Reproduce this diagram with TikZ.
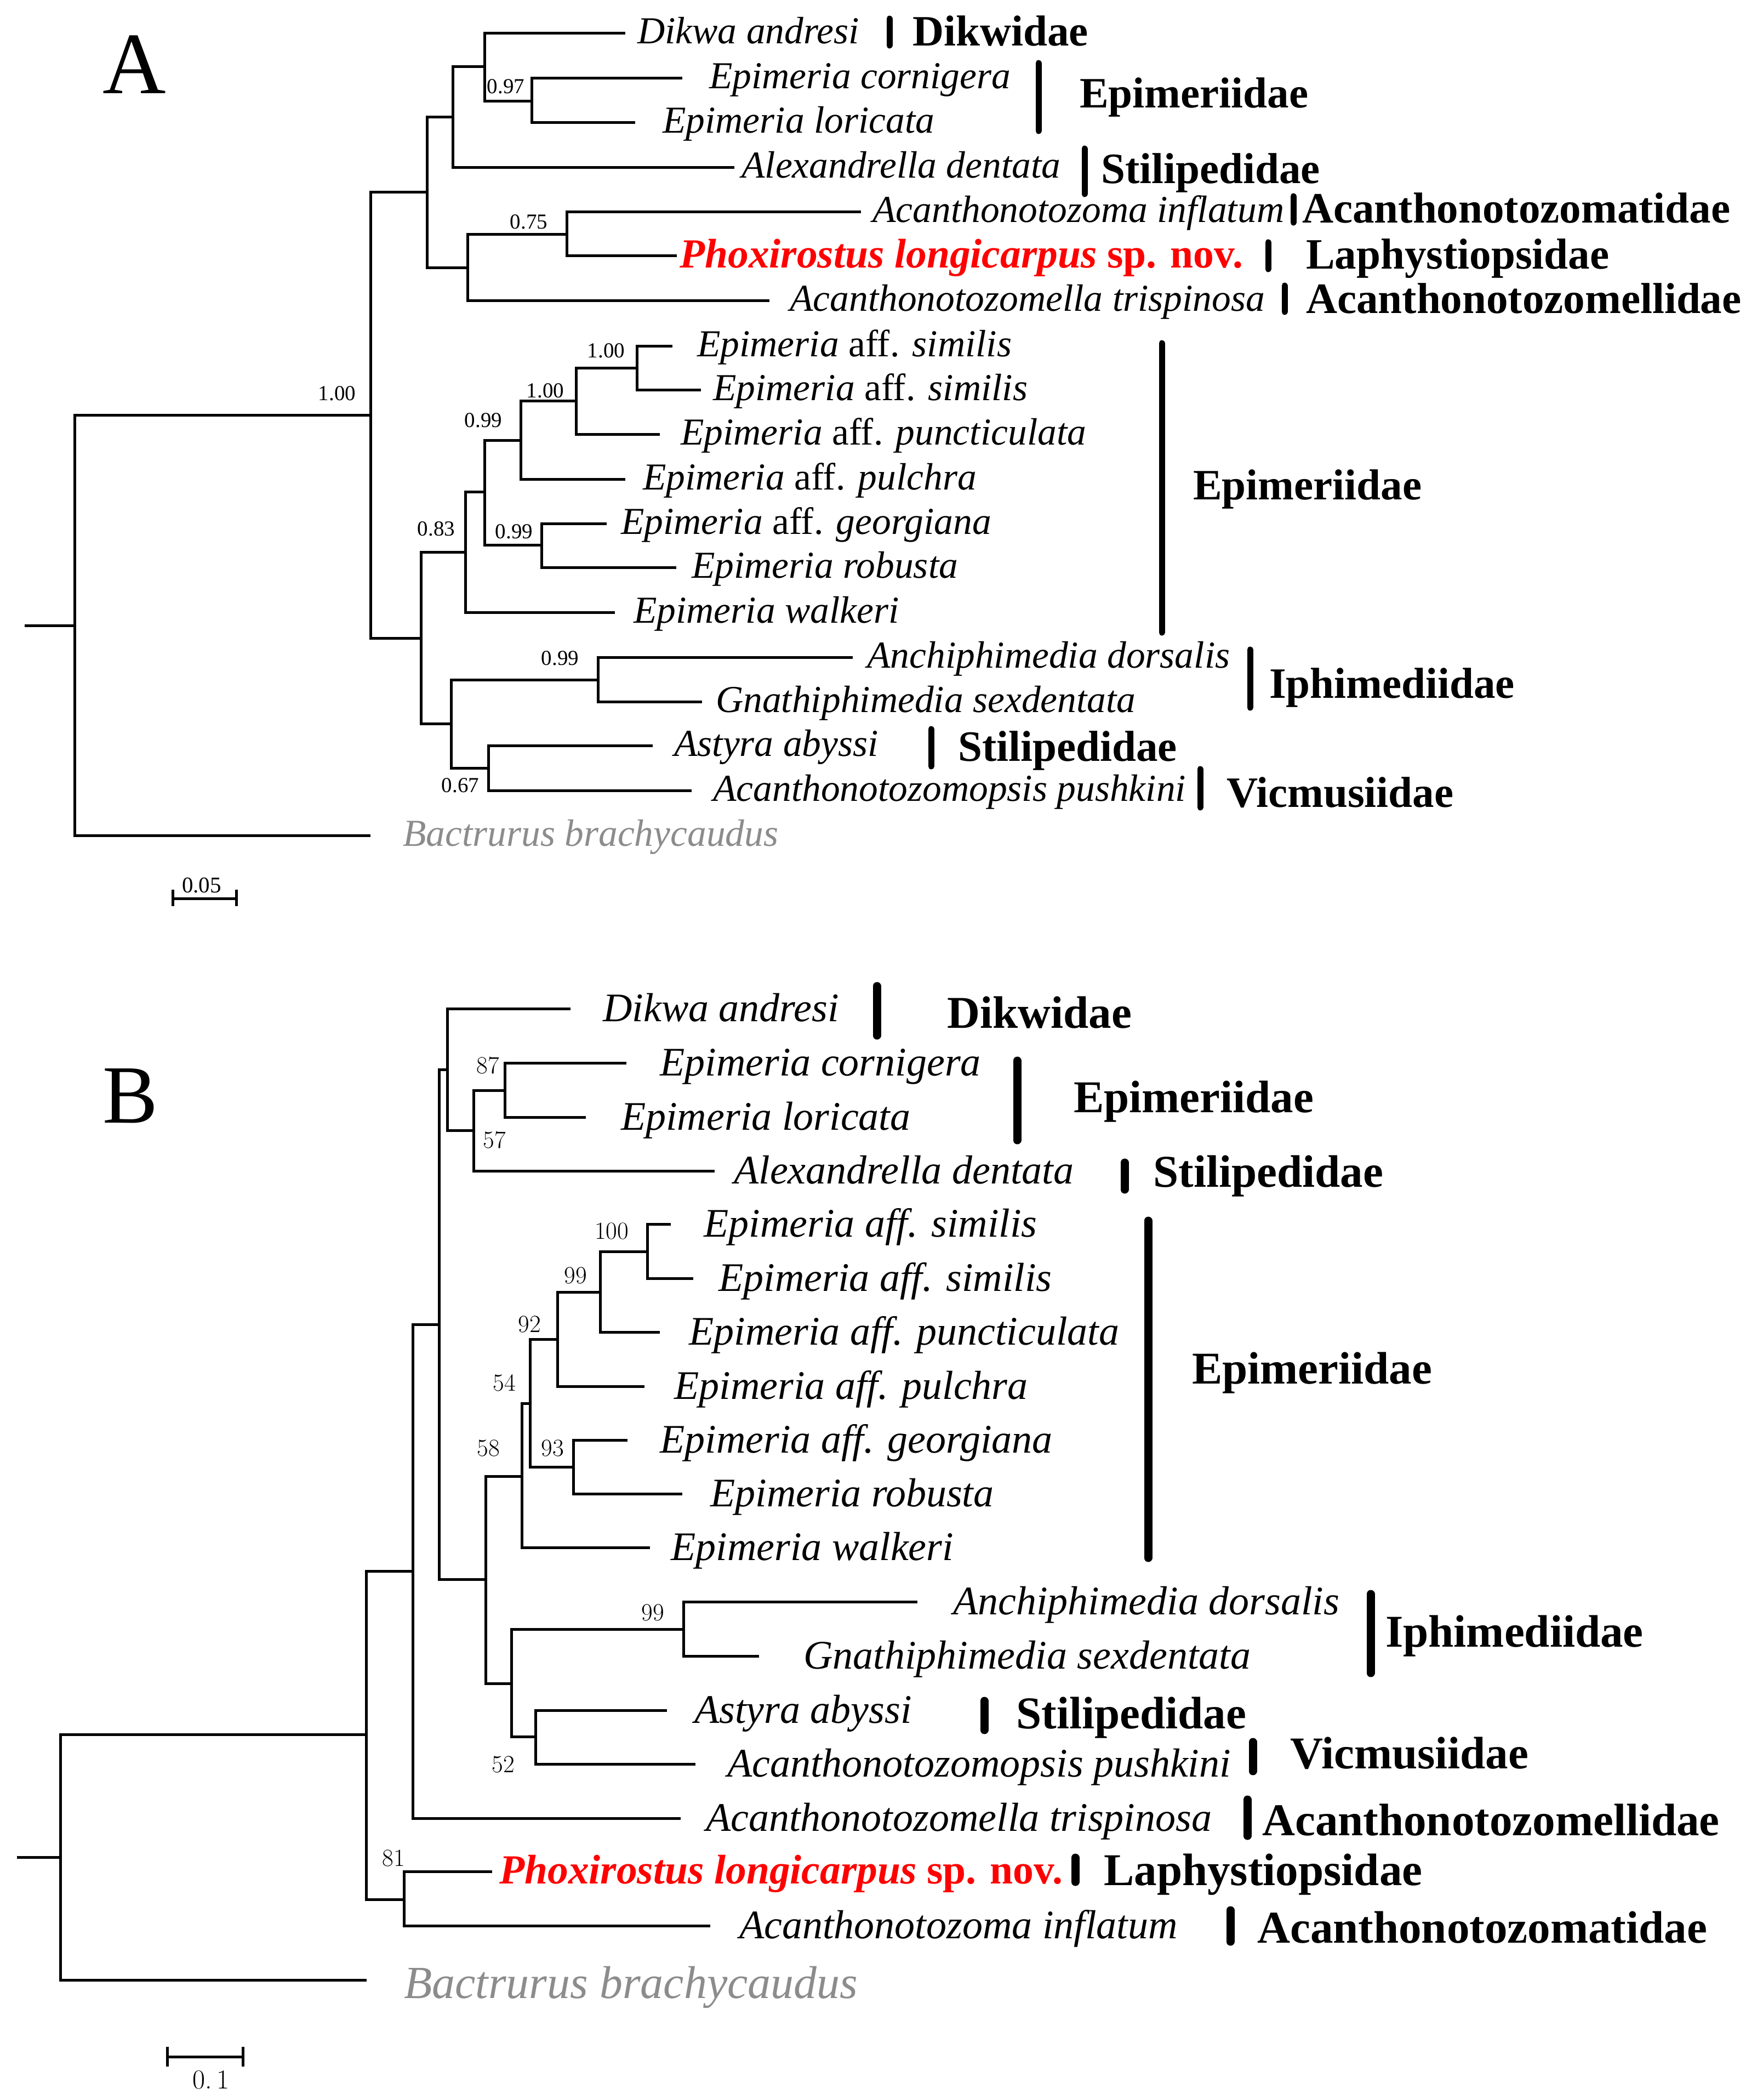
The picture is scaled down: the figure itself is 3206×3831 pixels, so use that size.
\documentclass[tikz,border=0pt]{standalone}
\usepackage{fontspec}
\setmainfont{Liberation Serif}
\definecolor{bacgray}{RGB}{140,140,140}
\definecolor{phoxred}{RGB}{255,0,0}
\tikzset{
  br/.style={line width=5pt, line join=miter},
  spA/.style={anchor=base west, inner sep=0pt, font=\fontsize{69.5}{71}\selectfont\itshape},
  spB/.style={anchor=base west, inner sep=0pt, font=\fontsize{74}{76}\selectfont\itshape},
  phoxA/.style={anchor=base west, inner sep=0pt, text=phoxred, font=\fontsize{75.5}{77}\selectfont\bfseries},
  bacA/.style={anchor=base west, inner sep=0pt, text=bacgray, font=\fontsize{69.5}{71}\selectfont\itshape},
  bacB/.style={anchor=base west, inner sep=0pt, text=bacgray, font=\fontsize{84}{86}\selectfont\itshape},
  famA/.style={anchor=base west, inner sep=0pt, font=\fontsize{79}{81}\selectfont\bfseries},
  famB/.style={anchor=base west, inner sep=0pt, font=\fontsize{83}{85}\selectfont\bfseries},
  barA/.style={line width=11pt, line cap=round},
  barB/.style={line width=15pt, line cap=round},
  supA/.style={inner sep=0pt, font=\fontsize{39}{40}\selectfont},
  supB/.style={inner sep=0pt, font=\fontfamily{lmr}\fontsize{45}{46}\selectfont},
  panel/.style={anchor=base west, inner sep=0pt},
  scalebar/.style={line width=5pt},
}
\begin{document}
\begin{tikzpicture}[x=1pt,y=-1pt]
\useasboundingbox (0,0) rectangle (3206,3831);

% ================= PANEL A =================
\node[panel, font=\fontsize{160}{160}\selectfont] (labA) at (187,170) {A};

\coordinate (a-root) at (45,1141);
\coordinate (a-r0) at (136,1141);
\coordinate (a-n1) at (676,757);
\coordinate (a-bac) at (676,1524);
\coordinate (a-top) at (779,350);
\coordinate (a-bot) at (768,1164);
\coordinate (a-dea) at (826,213);
\coordinate (a-acan) at (853,488);
\coordinate (a-de) at (884,121);
\coordinate (a-alex) at (1340,305);
\coordinate (a-dik) at (1141,60);
\coordinate (a-epi) at (970,184);
\coordinate (a-cor) at (1245,142);
\coordinate (a-lor) at (1159,223);
\coordinate (a-inf) at (1034,427);
\coordinate (a-atri) at (1404,548);
\coordinate (a-acinf) at (1571,386);
\coordinate (a-phox) at (1235,466);
\coordinate (a-n83) at (849,1007);
\coordinate (a-ia) at (823,1320);
\coordinate (a-n99a) at (884,897);
\coordinate (a-wal) at (1122,1117);
\coordinate (a-n100b) at (950,803);
\coordinate (a-n99g) at (988,994);
\coordinate (a-n100c) at (1051,731);
\coordinate (a-pul) at (1141,874);
\coordinate (a-n100d) at (1162,671);
\coordinate (a-pun) at (1204,792);
\coordinate (a-sim1) at (1227,631);
\coordinate (a-sim2) at (1279,711);
\coordinate (a-geo) at (1107,955);
\coordinate (a-rob) at (1234,1035);
\coordinate (a-n99i) at (1091,1240);
\coordinate (a-n67) at (891,1401);
\coordinate (a-anc) at (1556,1199);
\coordinate (a-gna) at (1281,1280);
\coordinate (a-ast) at (1191,1360);
\coordinate (a-acp) at (1262,1442);

\draw[br] (a-root) -- (a-r0);
\draw[br] (a-r0) |- (a-n1);   \draw[br] (a-r0) |- (a-bac);
\draw[br] (a-n1) |- (a-top);  \draw[br] (a-n1) |- (a-bot);
\draw[br] (a-top) |- (a-dea); \draw[br] (a-top) |- (a-acan);
\draw[br] (a-dea) |- (a-de);  \draw[br] (a-dea) |- (a-alex);
\draw[br] (a-de) |- (a-dik);  \draw[br] (a-de) |- (a-epi);
\draw[br] (a-epi) |- (a-cor); \draw[br] (a-epi) |- (a-lor);
\draw[br] (a-acan) |- (a-inf); \draw[br] (a-acan) |- (a-atri);
\draw[br] (a-inf) |- (a-acinf); \draw[br] (a-inf) |- (a-phox);
\draw[br] (a-bot) |- (a-n83); \draw[br] (a-bot) |- (a-ia);
\draw[br] (a-n83) |- (a-n99a); \draw[br] (a-n83) |- (a-wal);
\draw[br] (a-n99a) |- (a-n100b); \draw[br] (a-n99a) |- (a-n99g);
\draw[br] (a-n100b) |- (a-n100c); \draw[br] (a-n100b) |- (a-pul);
\draw[br] (a-n100c) |- (a-n100d); \draw[br] (a-n100c) |- (a-pun);
\draw[br] (a-n100d) |- (a-sim1); \draw[br] (a-n100d) |- (a-sim2);
\draw[br] (a-n99g) |- (a-geo); \draw[br] (a-n99g) |- (a-rob);
\draw[br] (a-ia) |- (a-n99i); \draw[br] (a-ia) |- (a-n67);
\draw[br] (a-n99i) |- (a-anc); \draw[br] (a-n99i) |- (a-gna);
\draw[br] (a-n67) |- (a-ast); \draw[br] (a-n67) |- (a-acp);

% species A
\node[spA] (ta-dik) at (1163,79) {Dikwa andresi};
\node[spA] (ta-cor) at (1294,161) {Epimeria cornigera};
\node[spA] (ta-lor) at (1209,242) {Epimeria loricata};
\node[spA] (ta-alex) at (1353,324) {Alexandrella dentata};
\node[spA] (ta-inf) at (1592,405) {Acanthonotozoma inflatum};
\node[phoxA] (ta-phox) at (1240,488) {\itshape Phoxirostus longicarpus \upshape sp. nov.};
\node[spA] (ta-atri) at (1441,567) {Acanthonotozomella trispinosa};
\node[spA] (ta-sim1) at (1272,650) {Epimeria \upshape aff. \itshape similis};
\node[spA] (ta-sim2) at (1301,730) {Epimeria \upshape aff. \itshape similis};
\node[spA] (ta-pun) at (1242,811) {Epimeria \upshape aff. \itshape puncticulata};
\node[spA] (ta-pul) at (1173,893) {Epimeria \upshape aff. \itshape pulchra};
\node[spA] (ta-geo) at (1133,974) {Epimeria \upshape aff. \itshape georgiana};
\node[spA] (ta-rob) at (1262,1054) {Epimeria robusta};
\node[spA] (ta-wal) at (1156,1136) {Epimeria walkeri};
\node[spA] (ta-anc) at (1582,1218) {Anchiphimedia dorsalis};
\node[spA] (ta-gna) at (1306,1299) {Gnathiphimedia sexdentata};
\node[spA] (ta-ast) at (1230,1379) {Astyra abyssi};
\node[spA] (ta-acp) at (1301,1461) {Acanthonotozomopsis pushkini};
\node[bacA] (ta-bac) at (735,1543) {Bactrurus brachycaudus};

% support A
\node[supA] (sa-97) at (923,158) {0.97};
\node[supA] (sa-75) at (965,405) {0.75};
\node[supA] (sa-100r) at (615,718) {1.00};
\node[supA] (sa-100d) at (1106,640) {1.00};
\node[supA] (sa-100c) at (995,713) {1.00};
\node[supA] (sa-99a) at (882,767) {0.99};
\node[supA] (sa-83) at (796,965) {0.83};
\node[supA] (sa-99g) at (938,970) {0.99};
\node[supA] (sa-99i) at (1022,1201) {0.99};
\node[supA] (sa-67) at (840,1433) {0.67};

% family bars & labels A
\draw[barA] (1623,34) -- (1623,83);
\node[famA] (fa-dik) at (1665,83) {Dikwidae};
\draw[barA] (1895,115) -- (1895,239);
\node[famA] (fa-epi1) at (1970,196) {Epimeriidae};
\draw[barA] (1979,271) -- (1979,354);
\node[famA] (fa-sti1) at (2009,334) {Stilipedidae};
\draw[barA] (2360,358) -- (2360,406);
\node[famA] (fa-acz) at (2376,406) {Acanthonotozomatidae};
\draw[barA] (2314,442) -- (2314,491);
\node[famA] (fa-lap) at (2383,490) {Laphystiopsidae};
\draw[barA] (2344,521) -- (2344,569);
\node[famA] (fa-acl) at (2383,571) {Acanthonotozomellidae};
\draw[barA] (2120,626) -- (2120,1154);
\node[famA] (fa-epi2) at (2177,911) {Epimeriidae};
\draw[barA] (2281,1185) -- (2281,1291);
\node[famA] (fa-iph) at (2316,1273) {Iphimediidae};
\draw[barA] (1699,1330) -- (1699,1398);
\node[famA] (fa-sti2) at (1748,1388) {Stilipedidae};
\draw[barA] (2190,1403) -- (2190,1473);
\node[famA] (fa-vic) at (2238,1472) {Vicmusiidae};

% scale A
\coordinate (sca-l) at (315,1639);
\coordinate (sca-r) at (431,1639);
\draw[scalebar] (sca-l) -- (sca-r);
\draw[scalebar] (315,1623) -- (315,1653);
\draw[scalebar] (431,1623) -- (431,1653);
\node[supA, anchor=base, font=\fontsize{41}{42}\selectfont] (sca-t) at (368,1628) {0.05};

% ================= PANEL B =================
\node[panel, font=\fontsize{151}{151}\selectfont] (labB) at (187,2048) {B};

\coordinate (b-root) at (31,3388);
\coordinate (b-r0) at (110,3388);
\coordinate (b-s) at (668,3164);
\coordinate (b-bac) at (669,3612);
\coordinate (b-r) at (753,2866);
\coordinate (b-n81) at (737,3465);
\coordinate (b-p) at (801,2416);
\coordinate (b-atri) at (1242,3317);
\coordinate (b-d) at (816,1951);
\coordinate (b-q) at (886,2881);
\coordinate (b-dik) at (1041,1840);
\coordinate (b-n57) at (864,2062);
\coordinate (b-n87) at (921,1989);
\coordinate (b-alex) at (1304,2136);
\coordinate (b-cor) at (1143,1939);
\coordinate (b-lor) at (1069,2038);
\coordinate (b-n58) at (952,2693);
\coordinate (b-t) at (933,3071);
\coordinate (b-n54) at (967,2560);
\coordinate (b-wal) at (1186,2823);
\coordinate (b-n92) at (1017,2443);
\coordinate (b-n93) at (1046,2676);
\coordinate (b-n99) at (1095,2357);
\coordinate (b-pul) at (1176,2529);
\coordinate (b-n100) at (1181,2283);
\coordinate (b-pun) at (1204,2430);
\coordinate (b-sim1) at (1224,2233);
\coordinate (b-sim2) at (1265,2332);
\coordinate (b-geo) at (1145,2627);
\coordinate (b-rob) at (1245,2725);
\coordinate (b-n99i) at (1247,2972);
\coordinate (b-n52) at (977,3168);
\coordinate (b-anc) at (1674,2922);
\coordinate (b-gna) at (1385,3021);
\coordinate (b-ast) at (1217,3120);
\coordinate (b-acp) at (1269,3218);
\coordinate (b-phox) at (898,3414);
\coordinate (b-inf) at (1296,3513);

\draw[br] (b-root) -- (b-r0);
\draw[br] (b-r0) |- (b-s);    \draw[br] (b-r0) |- (b-bac);
\draw[br] (b-s) |- (b-r);     \draw[br] (b-s) |- (b-n81);
\draw[br] (b-r) |- (b-p);     \draw[br] (b-r) |- (b-atri);
\draw[br] (b-p) |- (b-d);     \draw[br] (b-p) |- (b-q);
\draw[br] (b-d) |- (b-dik);   \draw[br] (b-d) |- (b-n57);
\draw[br] (b-n57) |- (b-n87); \draw[br] (b-n57) |- (b-alex);
\draw[br] (b-n87) |- (b-cor); \draw[br] (b-n87) |- (b-lor);
\draw[br] (b-q) |- (b-n58);   \draw[br] (b-q) |- (b-t);
\draw[br] (b-n58) |- (b-n54); \draw[br] (b-n58) |- (b-wal);
\draw[br] (b-n54) |- (b-n92); \draw[br] (b-n54) |- (b-n93);
\draw[br] (b-n92) |- (b-n99); \draw[br] (b-n92) |- (b-pul);
\draw[br] (b-n99) |- (b-n100); \draw[br] (b-n99) |- (b-pun);
\draw[br] (b-n100) |- (b-sim1); \draw[br] (b-n100) |- (b-sim2);
\draw[br] (b-n93) |- (b-geo); \draw[br] (b-n93) |- (b-rob);
\draw[br] (b-t) |- (b-n99i);  \draw[br] (b-t) |- (b-n52);
\draw[br] (b-n99i) |- (b-anc); \draw[br] (b-n99i) |- (b-gna);
\draw[br] (b-n52) |- (b-ast); \draw[br] (b-n52) |- (b-acp);
\draw[br] (b-n81) |- (b-phox); \draw[br] (b-n81) |- (b-inf);

% species B
\node[spB] (tb-dik) at (1100,1863) {Dikwa andresi};
\node[spB] (tb-cor) at (1204,1962) {Epimeria cornigera};
\node[spB] (tb-lor) at (1133,2061) {Epimeria loricata};
\node[spB] (tb-alex) at (1339,2159) {Alexandrella dentata};
\node[spB] (tb-sim1) at (1284,2256) {Epimeria aff. similis};
\node[spB] (tb-sim2) at (1311,2355) {Epimeria aff. similis};
\node[spB] (tb-pun) at (1257,2453) {Epimeria aff. puncticulata};
\node[spB] (tb-pul) at (1230,2552) {Epimeria aff. pulchra};
\node[spB] (tb-geo) at (1204,2650) {Epimeria aff. georgiana};
\node[spB] (tb-rob) at (1296,2748) {Epimeria robusta};
\node[spB] (tb-wal) at (1224,2846) {Epimeria walkeri};
\node[spB] (tb-anc) at (1739,2945) {Anchiphimedia dorsalis};
\node[spB] (tb-gna) at (1466,3044) {Gnathiphimedia sexdentata};
\node[spB] (tb-ast) at (1267,3143) {Astyra abyssi};
\node[spB] (tb-acp) at (1327,3241) {Acanthonotozomopsis pushkini};
\node[spB] (tb-atri) at (1288,3340) {Acanthonotozomella trispinosa};
\node[phoxA] (tb-phox) at (911,3436) {\itshape Phoxirostus longicarpus \upshape sp. nov.};
\node[spB] (tb-inf) at (1349,3536) {Acanthonotozoma inflatum};
\node[bacB] (tb-bac) at (737,3645) {Bactrurus brachycaudus};

% support B
\node[supB] (sb-87) at (890,1944) {87};
\node[supB] (sb-57) at (902,2080) {57};
\node[supB] (sb-100) at (1116,2246) {100};
\node[supB] (sb-99) at (1050,2327) {99};
\node[supB] (sb-92) at (966,2416) {92};
\node[supB] (sb-54) at (920,2523) {54};
\node[supB] (sb-93) at (1008,2642) {93};
\node[supB] (sb-58) at (891,2642) {58};
\node[supB] (sb-99i) at (1191,2942) {99};
\node[supB] (sb-52) at (918,3219) {52};
\node[supB] (sb-81) at (718,3390) {81};

% family bars & labels B
\draw[barB] (1600,1799) -- (1600,1889);
\node[famB] (fb-dik) at (1728,1875) {Dikwidae};
\draw[barB] (1856,1935) -- (1856,2080);
\node[famB] (fb-epi1) at (1959,2029) {Epimeriidae};
\draw[barB] (2052,2121) -- (2052,2170);
\node[famB] (fb-sti1) at (2104,2165) {Stilipedidae};
\draw[barB] (2095,2227) -- (2095,2842);
\node[famB] (fb-epi2) at (2175,2524) {Epimeriidae};
\draw[barB] (2501,2908) -- (2501,3052);
\node[famB] (fb-iph) at (2528,3004) {Iphimediidae};
\draw[barB] (1796,3103) -- (1796,3156);
\node[famB] (fb-sti2) at (1854,3153) {Stilipedidae};
\draw[barB] (2286,3178) -- (2286,3231);
\node[famB] (fb-vic) at (2354,3226) {Vicmusiidae};
\draw[barB] (2276,3283) -- (2276,3349);
\node[famB] (fb-acl) at (2303,3348) {Acanthonotozomellidae};
\draw[barB] (1962,3389) -- (1962,3433);
\node[famB] (fb-lap) at (2014,3439) {Laphystiopsidae};
\draw[barB] (2245,3485) -- (2245,3542);
\node[famB] (fb-acz) at (2294,3544) {Acanthonotozomatidae};

% scale B
\coordinate (scb-l) at (305,3752);
\coordinate (scb-r) at (443,3752);
\draw[scalebar] (scb-l) -- (scb-r);
\draw[scalebar] (305,3734) -- (305,3770);
\draw[scalebar] (443,3734) -- (443,3770);
\node[supB, anchor=base, font=\fontfamily{lmr}\fontsize{50}{50}\selectfont] (scb-t) at (385,3810) {0.\,1};

\end{tikzpicture}
\end{document}
